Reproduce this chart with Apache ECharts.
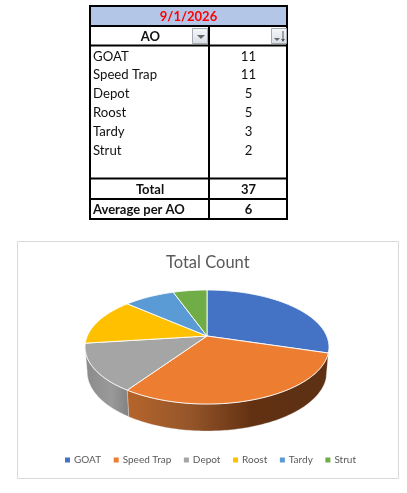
<!DOCTYPE html>
<html><head><meta charset="utf-8">
<style>html,body{margin:0;padding:0;background:#fff}#c{width:407px;height:493px}</style>
<script src="https://cdn.jsdelivr.net/npm/echarts@6/dist/echarts.min.js"></script>
</head><body><div id="c"></div>
<script>
const tableDate = '9/1/2026';
const headerLabel = 'AO';
const categories = ['GOAT','Speed Trap','Depot','Roost','Tardy','Strut'];
const counts = [11,11,5,5,3,2];
const totalCount = 37;
const averagePerAO = 6;
const chartTitle = 'Total Count';
const palette = ['#4472C4','#ED7D31','#A5A5A5','#FFC000','#5B9BD5','#70AD47'];
const FONT = 'Lato, "Open Sans", sans-serif';

// projection of the tilted disc
const CX=207, K=0.193;
const TOP={cy:336,A:119.7,B:54.9}, BOT={cy:360.6,A:117.5,B:56.8};
function proj(m,deg){const t=deg*Math.PI/180,d=1+K*Math.cos(t);
  return [CX+m.A*Math.sin(t)/d, m.cy-m.B*Math.cos(t)/d];}
const sum=counts.reduce((a,b)=>a+b,0);
function grad(x0,x1,stops){return {type:'linear',global:true,x:x0,y:0,x2:x1,y2:0,
  colorStops:stops.map(s=>({offset:s[0],color:s[1]}))};}
const wallFill={
  1:grad(128,300,[[0,'#B5652B'],[0.35,'#96562A'],[0.72,'#633112'],[1,'#5E3014']]),
  2:grad(88,130,[[0,'#8C8C8C'],[0.55,'#9A9A9A'],[1,'#808080']])
};
function renderSlice(params,api){
  const i=params.seriesIndex;
  const start=counts.slice(0,i).reduce((a,b)=>a+b,0)/sum*360;
  const end=start+api.value(0)/sum*360;
  const pts=[[CX,TOP.cy]];
  for(let a=start;a<end;a+=1)pts.push(proj(TOP,a));
  pts.push(proj(TOP,end));
  const kids=[];
  if(wallFill[i]){
    const a0=Math.max(start,101),a1=Math.min(end,259);
    const up=[],lo=[];
    for(let a=a0;a<a1;a+=1){up.push(proj(TOP,a));lo.push(proj(BOT,a));}
    up.push(proj(TOP,a1));lo.push(proj(BOT,a1));
    kids.push({type:'polygon',shape:{points:up.concat(lo.reverse())},
      style:{fill:wallFill[i],stroke:'rgba(235,235,235,0.55)',lineWidth:0.6}});
  }
  kids.push({type:'polygon',shape:{points:pts},
    style:{fill:api.visual('color'),stroke:'rgba(255,255,255,0.9)',lineWidth:1}});
  return {type:'group',children:kids};
}

// table drawing
const T={l:90,r:287,m:209,top:6,y1:26,y2:45.5,y3:178.5,y4:199,bot:219};
const rowYs=[56.5,75,94,113,132,151];
const g=[];
const REG='13.2px '+FONT, BOLD='bold 13px '+FONT;
function txt(x,y,s,o){g.push({type:'text',x,y,silent:true,style:Object.assign({text:s,font:REG,fill:'#111',
  textAlign:'center',textVerticalAlign:'middle'},o||{})});}
function ln(x1,y1,x2,y2){g.push({type:'line',shape:{x1,y1,x2,y2},style:{stroke:'#000',lineWidth:2}});}
g.push({type:'rect',shape:{x:T.l,y:T.top,width:T.r-T.l,height:T.y1-T.top},style:{fill:'#B4C6E7'}});
[T.top,T.y1,T.y2,T.y3,T.y4,T.bot].forEach(y=>ln(T.l-1,y,T.r+1,y));
ln(T.l,T.top,T.l,T.bot);ln(T.r,T.top,T.r,T.bot);
ln(T.m,T.y1,T.m,T.bot);
txt((T.l+T.r)/2,17,tableDate,{font:BOLD,fill:'#FF0000'});
txt(150.5,36.5,headerLabel,{font:BOLD});
categories.forEach((c,i)=>{txt(93,rowYs[i],c,{textAlign:'left'});txt(248.5,rowYs[i],String(counts[i]));});
txt(150,189.5,'Total',{font:BOLD});
txt(248.5,189.5,String(totalCount),{font:BOLD});
txt(93,209.5,'Average per AO',{font:BOLD,textAlign:'left'});
txt(248.5,209.5,String(averagePerAO),{font:BOLD});
// filter buttons
function btn(x,y){g.push({type:'rect',shape:{x:x+.5,y:y+.5,width:15,height:15},
  style:{fill:{type:'linear',x:0,y:0,x2:0,y2:1,colorStops:[{offset:0,color:'#F6F7F9'},{offset:1,color:'#D9DEE6'}]},stroke:'#A6ABB3',lineWidth:1}});}
btn(192,28);btn(271,28);
g.push({type:'polygon',shape:{points:[[197,35],[205,35],[201,39]]},style:{fill:'#666'}});
g.push({type:'polygon',shape:{points:[[274,38],[280,38],[277,41]]},style:{fill:'#666'}});
g.push({type:'line',shape:{x1:283,y1:31,x2:283,y2:41},style:{stroke:'#555',lineWidth:1}});
g.push({type:'polygon',shape:{points:[[281,39],[285,39],[283,42]]},style:{fill:'#555'}});
// chart frame
g.push({type:'rect',z:-1,shape:{x:17.5,y:241.5,width:381,height:237},style:{fill:'#fff',stroke:'#D9D9D9',lineWidth:1}});

const chart=echarts.init(document.getElementById('c'),null,{renderer:'canvas'});
chart.setOption({
  animation:false,
  backgroundColor:'#fff',
  color:palette,
  title:{text:chartTitle,left:161,top:249,textStyle:{fontFamily:FONT,fontSize:16.5,fontWeight:'normal',color:'#595959'}},
  legend:{left:60,top:450,itemWidth:5,itemHeight:5,itemGap:12.6,icon:'rect',selectedMode:false,
    textStyle:{fontFamily:FONT,fontSize:10,color:'#595959',padding:[0,0,0,-1]},
    data:categories},
  graphic:{elements:g},
  series:categories.map((c,i)=>({type:'custom',name:c,coordinateSystem:'none',silent:true,
    z:2,renderItem:renderSlice,data:[[counts[i]]]}))
});
</script></body></html>
